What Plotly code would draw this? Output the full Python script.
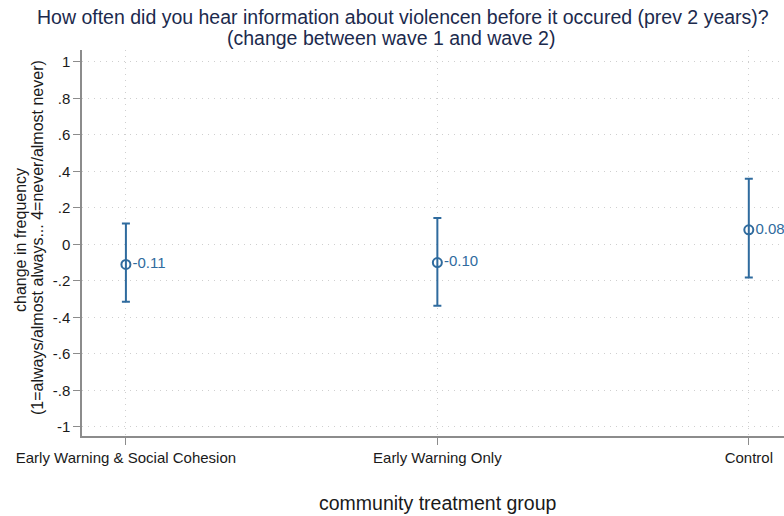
import plotly.graph_objects as go

# Mean change per treatment group with 95% confidence interval bounds
groups = ["Early Warning & Social Cohesion", "Early Warning Only", "Control"]
group_pos = [1, 2, 3]
mean_change = [-0.11, -0.10, 0.08]
ci_upper = [0.115, 0.145, 0.36]
ci_lower = [-0.315, -0.337, -0.182]

y_ticks = [1, 0.8, 0.6, 0.4, 0.2, 0, -0.2, -0.4, -0.6, -0.8, -1]
y_tick_text = ["1", ".8", ".6", ".4", ".2", "0", "-.2", "-.4", "-.6", "-.8", "-1"]

title_lines = [
    "How often did you hear information about violencen before it occured (prev 2 years)?",
    "(change between wave 1 and wave 2)",
]
y_title_lines = [
    "change in frequency",
    "(1=always/almost always... 4=never/almost never)",
]
x_title = "community treatment group"

series_color = "#2f6b9e"
font_family = "Liberation Sans, Arial, sans-serif"
W, H = 784, 516
M_L, M_R, M_T, M_B = 82, 0, 50, 80

err_plus = [u - m for u, m in zip(ci_upper, mean_change)]
err_minus = [m - l for m, l in zip(mean_change, ci_lower)]

fig = go.Figure()
fig.add_trace(go.Scatter(
    x=group_pos,
    y=mean_change,
    mode="markers+text",
    marker=dict(symbol="circle-open", size=9, color=series_color,
                line=dict(width=2, color=series_color)),
    error_y=dict(type="data", symmetric=False, array=err_plus,
                 arrayminus=err_minus, color=series_color,
                 thickness=2, width=4),
    text=[f"{v:.2f}" for v in mean_change],
    textposition="middle right",
    textfont=dict(family=font_family, size=15, color=series_color),
    showlegend=False,
    cliponaxis=False,
))


def px_to_paper_x(px):
    return (px - M_L) / (W - M_L - M_R)


def px_to_paper_y(py):
    return (H - M_B - py) / (H - M_T - M_B)


annotations = [
    dict(text=title_lines[0], xref="paper", yref="paper",
         x=px_to_paper_x(403), y=px_to_paper_y(17),
         xanchor="center", yanchor="middle", showarrow=False,
         font=dict(family=font_family, size=19.5, color="#1c2a4d")),
    dict(text=title_lines[1], xref="paper", yref="paper",
         x=px_to_paper_x(391), y=px_to_paper_y(38),
         xanchor="center", yanchor="middle", showarrow=False,
         font=dict(family=font_family, size=19.5, color="#1c2a4d")),
    dict(text=y_title_lines[0], xref="paper", yref="paper",
         x=px_to_paper_x(20), y=px_to_paper_y(240), textangle=-90,
         xanchor="center", yanchor="middle", showarrow=False,
         font=dict(family=font_family, size=16, color="#1a1a1a")),
    dict(text=y_title_lines[1], xref="paper", yref="paper",
         x=px_to_paper_x(38), y=px_to_paper_y(238), textangle=-90,
         xanchor="center", yanchor="middle", showarrow=False,
         font=dict(family=font_family, size=16, color="#1a1a1a")),
    dict(text=x_title, xref="paper", yref="paper",
         x=px_to_paper_x(438), y=px_to_paper_y(503),
         xanchor="center", yanchor="middle", showarrow=False,
         font=dict(family=font_family, size=19.5, color="#1a1a1a")),
]

grid_color = "#cfcfcf"
axis_color = "#8c8c8c"

fig.update_layout(
    width=W,
    height=H,
    margin=dict(l=M_L, r=M_R, t=M_T, b=M_B),
    paper_bgcolor="white",
    plot_bgcolor="white",
    font=dict(family=font_family, size=15, color="#1a1a1a"),
    annotations=annotations,
    xaxis=dict(
        range=[0.859, 3.113],
        tickvals=group_pos,
        ticktext=groups,
        ticks="outside", ticklen=7, tickcolor=axis_color,
        showgrid=True, gridcolor=grid_color, griddash="1px,5px", gridwidth=1,
        showline=True, linecolor=axis_color, linewidth=1.5,
        zeroline=False,
        tickfont=dict(size=15, color="#1a1a1a"),
    ),
    yaxis=dict(
        range=[-1.05, 1.065],
        tickvals=y_ticks,
        ticktext=y_tick_text,
        ticks="outside", ticklen=7, tickcolor=axis_color,
        showgrid=True, gridcolor=grid_color, griddash="1px,5px", gridwidth=1,
        showline=True, linecolor=axis_color, linewidth=1.5,
        zeroline=False,
        tickfont=dict(size=15, color="#1a1a1a"),
    ),
)

fig.write_html("out.html")
